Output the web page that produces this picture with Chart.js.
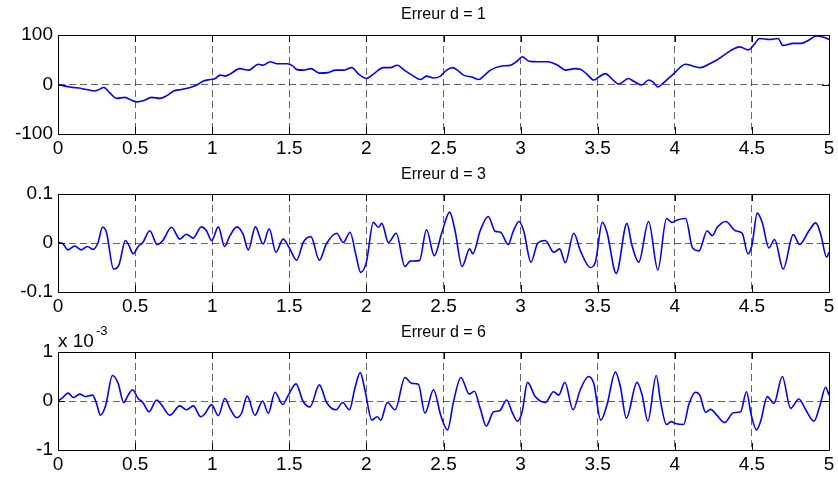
<!DOCTYPE html>
<html>
<head>
<meta charset="utf-8">
<script src="https://cdn.jsdelivr.net/npm/chart.js@4.4.1/dist/chart.umd.min.js"></script>
<style>
  body { margin: 0; background: #fff; }
  #wrap { position: relative; width: 838px; height: 477px; overflow: hidden; }
  canvas { position: absolute; left: 0; }
</style>
</head>
<body>
<div id="wrap">
  <canvas id="c1" width="838" height="160" style="top:0px"></canvas>
  <canvas id="c2" width="838" height="160" style="top:159px"></canvas>
  <canvas id="c3" width="838" height="160" style="top:317px"></canvas>
</div>
<script>
// time axis ticks (shared by the three plots)
const xTicks = [0, 0.5, 1, 1.5, 2, 2.5, 3, 3.5, 4, 4.5, 5];

// Erreur d = 1
const t1 = [0, 0.076, 0.152, 0.239, 0.26, 0.297, 0.336, 0.38, 0.434, 0.465, 0.51, 0.552, 0.607, 0.66, 0.703,
  0.75, 0.8, 0.857, 0.9, 0.944, 0.987, 1.02, 1.05, 1.085, 1.115, 1.18, 1.236, 1.3, 1.33, 1.377, 1.42, 1.486,
  1.52, 1.55, 1.59, 1.64, 1.695, 1.75, 1.8, 1.85, 1.905, 1.95, 2.0, 2.045, 2.11, 2.154, 2.2, 2.25, 2.306,
  2.35, 2.39, 2.436, 2.48, 2.52, 2.56, 2.59, 2.63, 2.685, 2.73, 2.76, 2.805, 2.87, 2.935, 2.98, 3.01, 3.055,
  3.11, 3.175, 3.24, 3.29, 3.355, 3.387, 3.43, 3.474, 3.507, 3.55, 3.59, 3.635, 3.7, 3.73, 3.785, 3.83, 3.86,
  3.89, 3.925, 3.99, 4.07, 4.12, 4.166, 4.22, 4.27, 4.36, 4.42, 4.477, 4.51, 4.55, 4.615, 4.67, 4.7, 4.767,
  4.82, 4.865, 4.92, 4.96, 5.0];
const err1 = [0, -5, -8, -13, -11, -6, -17, -28, -26, -30, -35, -33, -26, -28, -23,
  -13, -10, -6, -1, 7, 10, 12, 19, 17, 21, 32, 29, 41, 39, 46, 42, 42,
  38, 30, 29, 32, 23, 24, 29, 29, 34, 21, 12, 21, 34, 34, 39, 28, 17,
  10, 17, 13, 17, 29, 34, 29, 19, 15, 10, 17, 29, 37, 39, 48, 56, 47,
  46, 46, 39, 29, 32, 31, 21, 9, 15, 22, 12, 1, 12, 7, -1, 9, 5,
  -5, 3, 21, 41, 37, 34, 41, 49, 68, 76, 70, 79, 93, 91, 93, 79, 83,
  83, 89, 98, 96, 91];

// Erreur d = 3
const t3 = [0, 0.03, 0.065, 0.108, 0.15, 0.19, 0.227, 0.26, 0.288, 0.314, 0.36, 0.396, 0.437, 0.46, 0.487,
  0.52, 0.55, 0.595, 0.643, 0.68, 0.736, 0.79, 0.833, 0.876, 0.93, 0.963, 0.996, 1.04, 1.08, 1.115, 1.16,
  1.2, 1.234, 1.28, 1.33, 1.37, 1.413, 1.46, 1.5, 1.548, 1.59, 1.64, 1.695, 1.74, 1.807, 1.85, 1.894, 1.933,
  1.963, 2.0, 2.045, 2.078, 2.1, 2.143, 2.193, 2.25, 2.284, 2.344, 2.39, 2.44, 2.49, 2.54, 2.575, 2.62,
  2.67, 2.69, 2.738, 2.79, 2.835, 2.87, 2.92, 2.95, 2.99, 3.02, 3.067, 3.11, 3.16, 3.215, 3.253, 3.29,
  3.345, 3.388, 3.452, 3.485, 3.53, 3.56, 3.62, 3.69, 3.72, 3.766, 3.83, 3.89, 3.946, 3.982, 4.015, 4.07,
  4.115, 4.157, 4.21, 4.243, 4.275, 4.33, 4.394, 4.437, 4.474, 4.5, 4.535, 4.567, 4.61, 4.647, 4.703,
  4.768, 4.81, 4.87, 4.914, 4.946, 4.985, 5.0];
const err3 = [0.001, -0.001, -0.014, -0.006, -0.014, -0.007, -0.013, 0.001, 0.032, 0.022, -0.053, -0.044, 0.005, -0.005, -0.022,
  -0.007, 0.001, 0.025, -0.003, 0.005, 0.032, 0.008, 0.018, 0.010, 0.033, 0.025, 0.005, 0.033, -0.007, 0.015, 0.033,
  0.018, -0.014, 0.033, -0.002, 0.029, -0.019, 0.008, -0.010, -0.035, 0.001, 0.013, -0.035, -0.002, 0.020, 0.001, 0.022, -0.026,
  -0.060, -0.039, 0.042, 0.032, 0.040, 0.001, 0.020, -0.048, -0.037, -0.036, 0.027, -0.026, 0.022, 0.063, 0.025, -0.048,
  -0.012, -0.022, 0.025, 0.054, 0.024, 0.022, -0.003, 0.022, 0.044, 0.025, -0.039, -0.001, 0.005, -0.019, -0.012, -0.040,
  0.020, -0.016, -0.050, -0.039, 0.042, 0.022, -0.062, 0.040, -0.002, -0.039, 0.044, -0.055, 0.050, 0.042, 0.047, 0.050,
  -0.010, -0.016, 0.025, 0.015, 0.032, 0.044, 0.025, 0.020, -0.022, -0.005, 0.061, 0.042, -0.010, 0.007, -0.053,
  0.017, -0.003, 0.025, 0.041, 0.018, -0.029, -0.019];

// Erreur d = 6 (values in units of 1e-3)
const t6 = [0, 0.03, 0.065, 0.1, 0.14, 0.18, 0.223, 0.25, 0.275, 0.31, 0.353, 0.39, 0.426, 0.455, 0.483, 0.52,
  0.55, 0.59, 0.64, 0.67, 0.725, 0.79, 0.833, 0.877, 0.926, 0.95, 0.996, 1.04, 1.082, 1.115, 1.158, 1.19,
  1.227, 1.277, 1.327, 1.364, 1.407, 1.457, 1.494, 1.543, 1.59, 1.634, 1.695, 1.742, 1.803, 1.846, 1.89,
  1.926, 1.96, 1.99, 2.035, 2.07, 2.093, 2.136, 2.186, 2.25, 2.294, 2.337, 2.38, 2.435, 2.483, 2.526,
  2.565, 2.613, 2.667, 2.7, 2.738, 2.777, 2.825, 2.864, 2.91, 2.944, 2.98, 3.01, 3.045, 3.095, 3.16, 3.214,
  3.247, 3.287, 3.34, 3.387, 3.44, 3.474, 3.52, 3.56, 3.615, 3.647, 3.686, 3.755, 3.788, 3.825, 3.88, 3.907,
  3.946, 3.976, 4.004, 4.058, 4.09, 4.134, 4.162, 4.2, 4.232, 4.275, 4.323, 4.38, 4.427, 4.465, 4.496, 4.53,
  4.557, 4.6, 4.643, 4.697, 4.751, 4.805, 4.849, 4.903, 4.942, 4.978, 5.0];
const err6 = [0, 0.07, 0.16, 0.07, 0.14, 0.09, 0.12, -0.05, -0.29, -0.08, 0.52, 0.36, -0.03, 0.12, 0.23, 0.05,
  -0.03, -0.22, 0.02, -0.07, -0.29, -0.10, -0.18, -0.10, -0.32, -0.27, -0.08, -0.30, 0.05, -0.15, -0.34, -0.25,
  0.10, -0.29, 0.0, -0.25, 0.18, -0.07, 0.12, 0.35, -0.01, -0.12, 0.33, -0.03, -0.18, -0.03, -0.18,
  0.27, 0.58, 0.23, -0.39, -0.32, -0.39, -0.03, -0.18, 0.48, 0.36, 0.34, -0.25, 0.23, -0.30, -0.59,
  -0.01, 0.48, 0.14, 0.20, -0.15, -0.51, -0.22, -0.20, 0.02, -0.22, -0.41, -0.22, 0.38, 0.09, -0.03, 0.19,
  0.12, 0.38, -0.18, 0.23, 0.50, 0.36, -0.39, -0.08, 0.59, 0.29, -0.35, 0.38, 0.12, -0.41, 0.52, 0.0,
  -0.48, -0.42, -0.46, -0.48, -0.08, 0.18, 0.12, -0.23, -0.17, -0.30, -0.44, -0.24, -0.22, 0.19, -0.29, -0.59,
  -0.41, 0.09, -0.05, 0.50, -0.15, 0.04, -0.18, -0.41, -0.08, 0.28, 0.12];

const yTicks1 = [-100, 0, 100];
const yTicks3 = [-0.1, 0, 0.1];
const yTicks6 = [-1, 0, 1];

const FONT = "'Liberation Sans', Arial, Helvetica, sans-serif";
Chart.defaults.font.family = FONT;
Chart.defaults.color = "#000";

const GRID = "rgba(0,0,0,0.6)";

// MATLAB-like box, inner tick marks, title and exponent label
const matlabAxes = {
  id: "matlabAxes",
  afterDraw(chart, args, opts) {
    const { ctx, chartArea: a, scales } = chart;
    const tl = 7;
    ctx.save();
    ctx.strokeStyle = "#000";
    ctx.lineWidth = 1;
    ctx.beginPath();
    ctx.rect(a.left + 0.5, a.top + 0.5, a.right - a.left, a.bottom - a.top);
    scales.x.ticks.forEach((t) => {
      const px = Math.round(scales.x.getPixelForValue(t.value)) + 0.5;
      ctx.moveTo(px, a.bottom);
      ctx.lineTo(px, a.bottom - tl);
      ctx.moveTo(px, a.top);
      ctx.lineTo(px, a.top + tl);
    });
    scales.y.ticks.forEach((t) => {
      const py = Math.round(scales.y.getPixelForValue(t.value)) + 0.5;
      ctx.moveTo(a.left, py);
      ctx.lineTo(a.left + tl, py);
      ctx.moveTo(a.right, py);
      ctx.lineTo(a.right - tl, py);
    });
    ctx.stroke();

    ctx.fillStyle = "#000";
    ctx.textAlign = "center";
    ctx.textBaseline = "alphabetic";
    ctx.font = "16px " + FONT;
    ctx.fillText(opts.title, (a.left + a.right) / 2, a.top - opts.titleGap);

    if (opts.exponent) {
      ctx.textAlign = "left";
      ctx.font = "19px " + FONT;
      ctx.fillText("x 10", a.left, a.top - 5);
      const w = ctx.measureText("x 10").width;
      ctx.font = "13px " + FONT;
      ctx.fillText(opts.exponent, a.left + w + 2, a.top - 17);
    }
    ctx.restore();
  },
};

const makeChart = (id, xs, ys, yTicks, title, titleGap, xHeight, exponent) => {
  const ctx = document.getElementById(id);
  return new Chart(ctx, {
    type: "line",
    data: {
      datasets: [
        {
          data: xs.map((x, i) => ({ x: x, y: ys[i] })),
          borderColor: "#0000ff",
          borderWidth: 1.6,
          pointRadius: 0,
          cubicInterpolationMode: "monotone",
          fill: false,
        },
      ],
    },
    options: {
      responsive: false,
      animation: false,
      events: [],
      layout: { padding: { top: 35, right: 9, left: 0, bottom: 0 } },
      plugins: {
        legend: { display: false },
        tooltip: { enabled: false },
        matlabAxes: { title: title, titleGap: titleGap, exponent: exponent },
      },
      scales: {
        x: {
          type: "linear",
          min: xTicks[0],
          max: xTicks[xTicks.length - 1],
          afterBuildTicks: (scale) => {
            scale.ticks = xTicks.map((v) => ({ value: v }));
          },
          afterFit: (scale) => {
            scale.height = xHeight;
          },
          ticks: {
            font: { size: 19 },
            padding: 3,
            maxRotation: 0,
            autoSkip: false,
            callback: (value) => String(value),
          },
          grid: {
            drawTicks: false,
            lineWidth: 1,
            color: (c) =>
              c.tick && (c.tick.value === xTicks[0] || c.tick.value === xTicks[xTicks.length - 1])
                ? "rgba(0,0,0,0)"
                : GRID,
          },
          border: { display: false, dash: [7, 4] },
        },
        y: {
          type: "linear",
          min: yTicks[0],
          max: yTicks[yTicks.length - 1],
          afterBuildTicks: (scale) => {
            scale.ticks = yTicks.map((v) => ({ value: v }));
          },
          afterFit: (scale) => {
            scale.width = 58;
          },
          ticks: {
            font: { size: 19 },
            padding: 5,
            autoSkip: false,
            callback: (value) => String(value),
          },
          grid: {
            drawTicks: false,
            lineWidth: 1,
            color: (c) => (c.tick && c.tick.value === 0 ? GRID : "rgba(0,0,0,0)"),
          },
          border: { display: false, dash: [7, 4] },
        },
      },
    },
    plugins: [matlabAxes],
  });
};

makeChart("c1", t1, err1, yTicks1, "Erreur d = 1", 16, 26, null);
makeChart("c2", t3, err3, yTicks3, "Erreur d = 3", 15, 27, null);
makeChart("c3", t6, err6, yTicks6, "Erreur d = 6", 15, 27, "-3");
</script>
</body>
</html>
